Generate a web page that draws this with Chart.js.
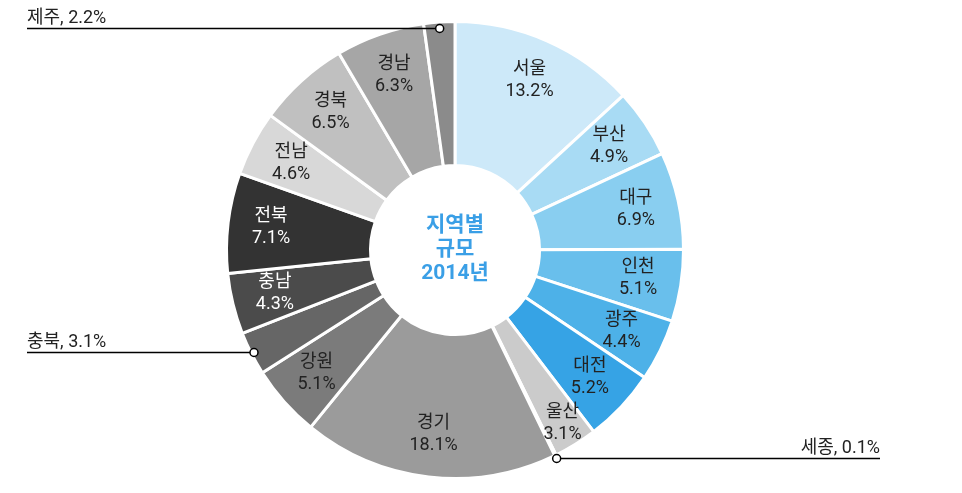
<!DOCTYPE html>
<html>
<head>
<meta charset="utf-8">
<script src="https://cdn.jsdelivr.net/npm/chart.js@4"></script>
<style>
  html, body { margin: 0; padding: 0; background: #fff; }
  #wrap { width: 962px; height: 493px; position: relative; }
</style>
</head>
<body>
<div id="wrap"><canvas id="regionChart"></canvas></div>
<script>
// region order clockwise from 12 o'clock
const regions = ["서울", "부산", "대구", "인천", "광주", "대전", "울산", "세종", "경기",
                 "강원", "충북", "충남", "전북", "전남", "경북", "경남", "제주"];
const shares = [13.2, 4.9, 6.9, 5.1, 4.4, 5.2, 3.1, 0.1, 18.1, 5.1, 3.1, 4.3, 7.1, 4.6, 6.5, 6.3, 2.2];
const centerTitle = ["지역별", "규모", "2014년"];
// small slices get a leader line instead of an inside label
const calloutRegions = ["제주", "충북", "세종"];

const sliceColors = [
    "#cde9f9", "#a8dbf4", "#89cef0", "#69bfec", "#4db1e8", "#36a3e5",
    "#cbcbcb", "#b5b5b5", "#9b9b9b", "#7b7b7b", "#666666", "#4b4b4b",
    "#333333", "#d8d8d8", "#c0c0c0", "#a6a6a6", "#8b8b8b"
];
const darkSlices = ["전북", "충남"];
// where the dot sits relative to the outer edge (px)
const dotInset = { "제주": 6, "충북": 3, "세종": -3 };

const FONT = "Roboto, 'Noto Sans CJK KR', sans-serif";

const labelPlugin = {
    id: "regionLabels",
    afterDatasetsDraw(chart) {
        const ctx = chart.ctx;
        const arcs = chart.getDatasetMeta(0).data;
        ctx.save();
        ctx.textAlign = "center";
        ctx.textBaseline = "middle";

        arcs.forEach((arc, i) => {
            const name = regions[i];
            if (calloutRegions.includes(name)) return;
            const p = arc.getProps(["x", "y", "startAngle", "endAngle", "innerRadius", "outerRadius"], true);
            const mid = (p.startAngle + p.endAngle) / 2;
            let r = p.innerRadius + (p.outerRadius - p.innerRadius) * 0.7;
            if (name === "울산") r = p.innerRadius + (p.outerRadius - p.innerRadius) * 0.83;
            const x = p.x + Math.cos(mid) * r;
            const y = p.y + Math.sin(mid) * r;
            ctx.fillStyle = darkSlices.includes(name) ? "#ffffff" : "#222222";
            ctx.font = "18px " + FONT;
            ctx.fillText(name, x, y - 11);
            ctx.fillText(shares[i].toFixed(1) + "%", x, y + 11);
        });

        // leader lines
        arcs.forEach((arc, i) => {
            const name = regions[i];
            if (!calloutRegions.includes(name)) return;
            const p = arc.getProps(["x", "y", "startAngle", "endAngle", "outerRadius"], true);
            const mid = (p.startAngle + p.endAngle) / 2;
            const r = p.outerRadius - dotInset[name];
            const px = p.x + Math.cos(mid) * r;
            const py = Math.round(p.y + Math.sin(mid) * r) + 0.5;
            const text = name + ", " + shares[i].toFixed(1) + "%";
            const toRight = Math.cos(mid) > 0 && Math.sin(mid) > 0.5;

            ctx.strokeStyle = "#000";
            ctx.lineWidth = 1.3;
            ctx.beginPath();
            if (toRight) {
                ctx.moveTo(px, py);
                ctx.lineTo(880, py);
            } else {
                ctx.moveTo(27, py);
                ctx.lineTo(px, py);
            }
            ctx.stroke();

            ctx.beginPath();
            ctx.arc(px, py, 4, 0, Math.PI * 2);
            ctx.fillStyle = "#fff";
            ctx.fill();
            ctx.lineWidth = 1.5;
            ctx.stroke();

            ctx.fillStyle = "#222";
            ctx.font = "18px " + FONT;
            ctx.textBaseline = "alphabetic";
            if (toRight) {
                ctx.textAlign = "right";
                ctx.fillText(text, 880, py - 6);
            } else {
                ctx.textAlign = "left";
                ctx.fillText(text, 27, py - 6);
            }
        });

        // centre title
        const first = arcs[0];
        ctx.textAlign = "center";
        ctx.textBaseline = "middle";
        ctx.fillStyle = "#3a9fe6";
        ctx.font = "bold 21px " + FONT;
        centerTitle.forEach((line, k) => {
            ctx.fillText(line, first.x, first.y - 24 + k * 24);
        });
        ctx.restore();
    }
};

new Chart(document.getElementById("regionChart"), {
    type: "doughnut",
    data: {
        labels: regions,
        datasets: [{
            data: shares,
            backgroundColor: sliceColors,
            borderColor: "#ffffff",
            borderWidth: 3,
            hoverOffset: 0
        }]
    },
    options: {
        responsive: true,
        maintainAspectRatio: false,
        animation: false,
        cutout: "37%",
        layout: { padding: { top: 20, bottom: 13, left: 0, right: 52 } },
        plugins: {
            legend: { display: false },
            tooltip: { enabled: false }
        }
    },
    plugins: [labelPlugin]
});
</script>
</body>
</html>
